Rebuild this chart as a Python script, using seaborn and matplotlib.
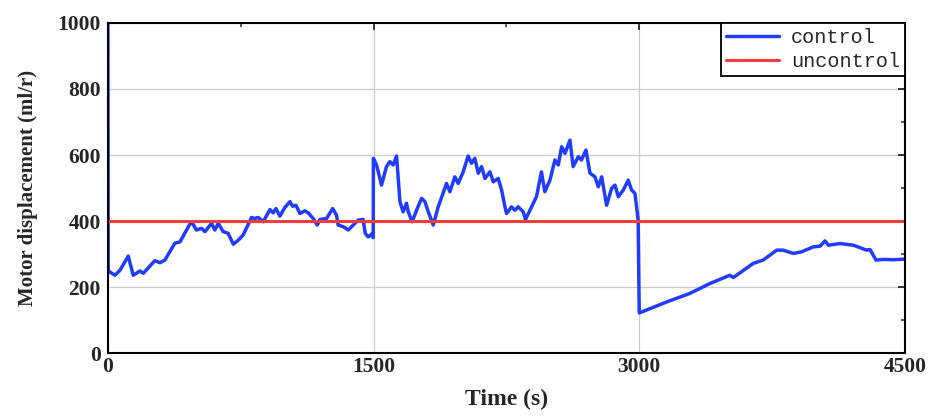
import numpy as np
import pandas as pd
import matplotlib
matplotlib.use("Agg")
import matplotlib.pyplot as plt
from matplotlib.ticker import MultipleLocator
import seaborn as sns

# time (s) and motor displacement (ml/r)
time_ctrl = [0, 2, 11, 40, 68, 115, 143, 181, 200, 265, 294, 322, 378, 407, 463, 476,
             500, 529, 548, 585, 604, 623, 651, 679, 708, 736, 764, 811, 830, 849, 877,
             915, 933, 949, 971, 999, 1028, 1043, 1062, 1084, 1112, 1131, 1159, 1182,
             1197, 1235, 1269, 1291, 1300, 1329, 1357, 1376, 1413, 1441, 1453, 1470,
             1495, 1498, 1499, 1517, 1545, 1573, 1592, 1611, 1630, 1649, 1667, 1686,
             1696, 1718, 1743, 1771, 1790, 1809, 1837, 1865, 1912, 1931, 1959, 1978,
             2006, 2034, 2053, 2072, 2091, 2110, 2129, 2157, 2176, 2204, 2223, 2242,
             2251, 2279, 2298, 2317, 2345, 2358, 2383, 2420, 2448, 2467, 2496, 2524,
             2543, 2562, 2581, 2609, 2627, 2656, 2674, 2699, 2722, 2750, 2769, 2788,
             2816, 2844, 2863, 2882, 2910, 2938, 2957, 2976, 2994, 3000, 3001, 3154,
             3286, 3399, 3512, 3531, 3644, 3700, 3776, 3813, 3870, 3917, 3983, 4021,
             4049, 4068, 4134, 4209, 4284, 4303, 4337, 4378, 4440, 4500]
disp_ctrl = [1000, 250, 246, 236, 251, 294, 236, 249, 242, 280, 274, 282, 333, 337, 391, 395,
             373, 378, 368, 393, 373, 393, 368, 363, 330, 342, 358, 411, 408, 411, 398,
             435, 425, 438, 415, 441, 459, 445, 448, 423, 431, 425, 408, 388,
             405, 408, 438, 418, 388, 383, 373, 383, 403, 405, 363, 352,
             363, 350, 590, 570, 509, 565, 580, 570, 597, 459, 428, 454,
             428, 398, 433, 469, 459, 428, 388, 443, 514, 489, 534, 514,
             549, 597, 575, 590, 545, 565, 529, 549, 519, 529, 494, 443,
             423, 443, 433, 443, 428, 405, 433, 474, 549, 489, 524, 585,
             570, 625, 605, 645, 565, 595, 585, 615, 545, 534, 504, 534,
             448, 499, 509, 474, 494, 524, 494, 484, 403, 125, 122, 155,
             181, 211, 236, 229, 272, 282, 312, 312, 302, 307, 322, 324,
             340, 327, 332, 327, 312, 314, 282, 284, 283, 285]
time_unctrl = [0, 4500]
disp_unctrl = [400, 400]

df_ctrl = pd.DataFrame({"t": time_ctrl, "v": disp_ctrl})
df_unctrl = pd.DataFrame({"t": time_unctrl, "v": disp_unctrl})

sns.set_style("white")
plt.rcParams["font.family"] = ["Liberation Serif", "DejaVu Serif"]

fig, ax = plt.subplots(figsize=(9.3, 4.17), dpi=100)
fig.subplots_adjust(left=0.116, right=0.973, top=0.945, bottom=0.153)

sns.lineplot(data=df_ctrl, x="t", y="v", ax=ax, color="#1f3cff", lw=2.5,
             label="control", sort=False, estimator=None)
sns.lineplot(data=df_unctrl, x="t", y="v", ax=ax, color="#f03c3c", lw=2.2,
             label="uncontrol", estimator=None)

ax.set_xlim(0, 4500)
ax.set_ylim(0, 1000)
ax.xaxis.set_major_locator(MultipleLocator(1500))
ax.xaxis.set_minor_locator(MultipleLocator(750))
ax.yaxis.set_major_locator(MultipleLocator(200))
ax.yaxis.set_minor_locator(MultipleLocator(100))
ax.grid(True, which="major", color="#cccccc", lw=0.9)
ax.set_axisbelow(True)

ax.tick_params(which="both", direction="in", top=True, right=True, labelsize=15.5)
ax.tick_params(which="major", length=5, width=1.3)
ax.tick_params(which="minor", length=3, width=1.1)
ax.tick_params(axis="y", pad=5)
ax.tick_params(axis="x", pad=3)
for lab in ax.get_xticklabels() + ax.get_yticklabels():
    lab.set_fontweight("bold")
for s in ax.spines.values():
    s.set_linewidth(1.5)
    s.set_color("black")

ax.set_xlabel("Time (s)", fontsize=17, fontweight="bold", labelpad=8)
ax.set_ylabel("Motor displacement (ml/r)", fontsize=15, fontweight="bold", labelpad=14)

leg = ax.legend(loc="upper right", prop={"family": "Liberation Mono", "size": 14.5},
                frameon=True, fancybox=False, borderaxespad=0, handlelength=2.6,
                borderpad=0.25, labelspacing=0.25, handletextpad=0.6)
leg.get_frame().set_edgecolor("black")
leg.get_frame().set_linewidth(1.3)
leg.get_frame().set_alpha(1)

plt.savefig("out.png", dpi=100)
plt.close()
